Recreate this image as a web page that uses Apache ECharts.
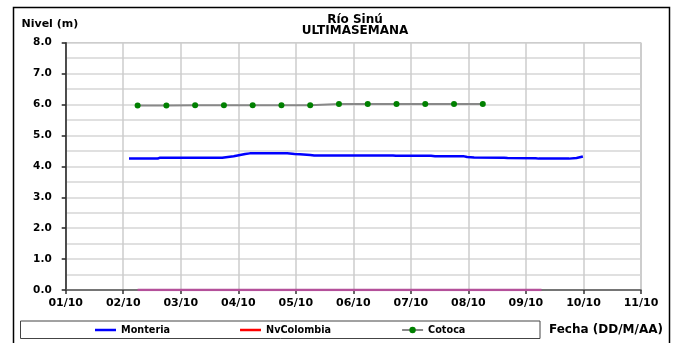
<!DOCTYPE html>
<html>
<head>
<meta charset="utf-8">
<script src="https://cdn.jsdelivr.net/npm/echarts@6/dist/echarts.min.js"></script>
<style>
  html, body { margin: 0; padding: 0; background: #fff; }
  #chart { width: 676px; height: 343px; }
</style>
</head>
<body>
<div id="chart"></div>
<script>
// Time is expressed in days counted from 01/10 00:00.
const dayLabels = ['01/10', '02/10', '03/10', '04/10', '05/10', '06/10', '07/10', '08/10', '09/10', '10/10', '11/10'];

// Monteria water level (m)
const monteriaDays = [1.10, 1.60, 1.64, 2.72, 2.92, 3.12, 3.20, 3.85, 3.98, 4.07, 4.25, 4.32, 5.69, 5.74, 6.35, 6.42, 6.91, 6.98, 7.10, 7.62, 7.68, 8.17, 8.22, 8.75, 8.88, 8.99];
const monteriaLevel = [4.25, 4.25, 4.28, 4.28, 4.33, 4.40, 4.42, 4.42, 4.40, 4.39, 4.37, 4.35, 4.35, 4.34, 4.34, 4.33, 4.33, 4.30, 4.29, 4.28, 4.27, 4.26, 4.25, 4.25, 4.27, 4.32];

// NvColombia water level (m)
const nvColombiaDays = [1.25, 8.27];
const nvColombiaLevel = [0.0, 0.0];

// Cotoca water level (m), twice a day
const cotocaDays = [1.25, 1.75, 2.25, 2.75, 3.25, 3.75, 4.25, 4.75, 5.25, 5.75, 6.25, 6.75, 7.25];
const cotocaLevel = [5.97, 5.97, 5.98, 5.98, 5.98, 5.98, 5.98, 6.02, 6.02, 6.02, 6.02, 6.02, 6.02];

const zip = (xs, ys) => xs.map((x, i) => [x, ys[i]]);

const FONT = '"DejaVu Sans", Verdana, sans-serif';
// flat bar used as a plain line key in the legend
const LINE_ICON = 'path://M0,0 L21,0 L21,2.5 L0,2.5 Z';

const chart = echarts.init(document.getElementById('chart'), null, { renderer: 'canvas' });

chart.setOption({
  animation: false,
  backgroundColor: '#ffffff',
  textStyle: { fontFamily: FONT },
  grid: {
    left: 65.7, right: 35, top: 42.7, bottom: 53,
    show: true, borderColor: '#a0a0a0', borderWidth: 1, backgroundColor: 'transparent'
  },
  xAxis: {
    type: 'value', min: 0, max: 10, interval: 1,
    axisLine: { show: true, onZero: false, lineStyle: { color: '#555555', width: 1.5 } },
    axisTick: { show: true, length: 4, lineStyle: { color: '#333333', width: 1.5 } },
    axisLabel: {
      margin: 8, color: '#000', fontWeight: 'bold', fontSize: 11, fontFamily: FONT,
      formatter: v => dayLabels[Math.round(v)] || ''
    },
    splitLine: { show: true, lineStyle: { color: '#cccccc', width: 1.5 } }
  },
  yAxis: {
    type: 'value', min: 0, max: 8, interval: 1,
    axisLine: { show: true, lineStyle: { color: '#222222', width: 1.5 } },
    axisTick: { show: true, length: 4, lineStyle: { color: '#222222', width: 1.5 } },
    axisLabel: {
      margin: 14, color: '#000', fontWeight: 'bold', fontSize: 10.5, fontFamily: FONT,
      formatter: v => v.toFixed(1)
    },
    splitLine: { show: true, lineStyle: { color: '#d6d6d6', width: 1.5 } },
    minorTick: { show: false, splitNumber: 2 },
    minorSplitLine: { show: true, lineStyle: { color: '#d6d6d6', width: 1.5 } }
  },
  legend: {
    left: 95, top: 325, padding: 0,
    itemWidth: 21, itemHeight: 8, itemGap: 70,
    textStyle: { color: '#000', fontWeight: 'bold', fontSize: 9.7, fontFamily: FONT },
    data: [
      { name: 'Monteria', icon: LINE_ICON, itemStyle: { color: '#0000ff' } },
      { name: 'NvColombia', icon: LINE_ICON, itemStyle: { color: '#ff0000' } },
      { name: 'Cotoca', itemStyle: { color: '#008000' }, lineStyle: { color: '#888888' } }
    ]
  },
  series: [
    {
      name: 'Monteria', type: 'line', data: zip(monteriaDays, monteriaLevel),
      symbol: 'none', smooth: false,
      color: '#0000ff',
      itemStyle: { color: '#0000ff' },
      lineStyle: { color: '#0000ff', width: 2.5 }
    },
    {
      name: 'NvColombia', type: 'line', data: zip(nvColombiaDays, nvColombiaLevel),
      symbol: 'none', z: 3,
      color: '#b4509a',
      itemStyle: { color: '#b4509a' },
      lineStyle: { color: '#b4509a', width: 2.5 }
    },
    {
      name: 'Cotoca', type: 'line', data: zip(cotocaDays, cotocaLevel),
      symbol: 'circle', symbolSize: 6, showSymbol: true,
      color: '#008000',
      itemStyle: { color: '#008000', borderWidth: 0 },
      lineStyle: { color: '#888888', width: 2 }
    }
  ],
  graphic: [
    { type: 'rect', silent: true, z: -1,
      shape: { x: 13.5, y: 7.5, width: 656, height: 345 },
      style: { fill: 'none', stroke: '#000', lineWidth: 1.5 } },
    { type: 'rect', silent: true, z: -1,
      shape: { x: 20.5, y: 321, width: 519.5, height: 17.5 },
      style: { fill: '#fff', stroke: '#444', lineWidth: 1 } },
    { type: 'text', left: 21.5, top: 18.5,
      style: { text: 'Nivel (m)', fill: '#000', font: 'bold 11px ' + FONT } },
    { type: 'text', x: 355, y: 19.5,
      style: { text: 'Río Sinú', fill: '#000', font: 'bold 12px ' + FONT, align: 'center', verticalAlign: 'middle' } },
    { type: 'text', x: 355, y: 30.5,
      style: { text: 'ULTIMASEMANA', fill: '#000', font: 'bold 12px ' + FONT, align: 'center', verticalAlign: 'middle' } },
    { type: 'text', x: 549, y: 330,
      style: { text: 'Fecha (DD/M/AA)', fill: '#000', font: 'bold 12px ' + FONT, align: 'left', verticalAlign: 'middle' } }
  ]
});
</script>
</body>
</html>
